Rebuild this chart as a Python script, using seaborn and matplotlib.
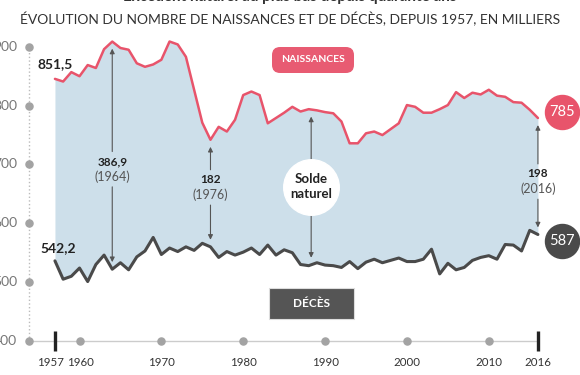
import numpy as np
import pandas as pd
import seaborn as sns
import matplotlib.pyplot as plt
from matplotlib.patches import FancyBboxPatch, Rectangle
from matplotlib.transforms import offset_copy

# births and deaths in France, thousands
years = list(range(1957, 2017))
naissances = [851.5, 847, 863, 856, 875, 870, 902, 914.9, 904, 901,
              878, 872, 876, 884, 915, 910, 889, 833, 777, 748,
              770, 762, 782, 824, 830, 824, 776, 785, 794, 804,
              796, 800, 798, 795, 793, 779, 742, 742, 759, 762,
              756, 766, 776, 807, 804, 794, 794, 800, 807, 829,
              819, 828, 825, 833, 823, 821, 812, 811, 799, 785]
deces = [542.2, 511, 516, 530, 507, 536, 552, 528, 539, 527,
         549, 559, 582, 553, 564, 558, 566, 560, 572, 566,
         548, 558, 552, 557, 564, 553, 569, 552, 561, 556,
         536, 534, 539, 535, 534, 531, 541, 529, 540, 545,
         539, 543, 547, 541, 541, 545, 562, 520, 538, 527,
         531, 543, 548, 551, 545, 570, 569, 559, 594, 587]

y_ticks = [400, 500, 600, 700, 800, 900]
dot_years = [1960, 1970, 1980, 1990, 2000, 2010]
end_years = [1957, 2016]

# solde naturel callouts: year, value, year label
solde_years = [1964, 1976, 2016]
solde_values = ['386,9', '182', '198']
solde_label_y = [711, 680, 690]

title = 'ÉVOLUTION DU NOMBRE DE NAISSANCES ET DE DÉCÈS, DEPUIS 1957, EN MILLIERS'
headline = 'Excédent naturel au plus bas depuis quarante ans'

pink = '#e8546b'
dark = '#4a4a4a'
fill = '#cddfea'
grid_shift = 6  # the original's grid sits a little off its data

sns.set_theme(style='white')
plt.rcParams['font.family'] = ['Lato', 'DejaVu Sans']

fig = plt.figure(figsize=(5.8, 3.75), dpi=100)
ax = fig.add_axes([0.05, 0.0907, 0.8845, 0.808])
ax.set_xlim(1953.83, 2016.5)
ax.set_ylim(400 + grid_shift, 921)

df = pd.DataFrame({'annee': years, 'naissances': naissances, 'deces': deces})
ax.fill_between(df['annee'], df['deces'], df['naissances'], color=fill, lw=0, zorder=0)
sns.lineplot(data=df, x='annee', y='naissances', ax=ax, color=pink, linewidth=1.8, zorder=3)
sns.lineplot(data=df, x='annee', y='deces', ax=ax, color=dark, linewidth=2.2, zorder=3)
ax.axis('off')

# y axis: dotted line with grey dots
ytr = ax.get_yaxis_transform()
yt = [t + grid_shift for t in y_ticks]
ax.plot([0, 0], [yt[0], yt[-1]], transform=ytr, ls=':', lw=1, color='#bbbbbb', clip_on=False)
ax.scatter([0] * len(yt), yt, transform=ytr, s=26, color='#a3a3a3', zorder=4, clip_on=False)
for t, v in zip(y_ticks, yt):
    ax.annotate(str(t), (0, v), xycoords=ytr, xytext=(-12, 0), textcoords='offset pixels',
                ha='right', va='center', fontsize=10, color='#777777')

# x axis
base = yt[0]
ax.plot([1953.83, 2016], [base, base], color='#cccccc', lw=1, clip_on=False, zorder=1)
ax.scatter(dot_years, [base] * len(dot_years), s=26, color='#a3a3a3', zorder=4, clip_on=False)
ax.plot(end_years, [base] * 2, ls='none', marker='|', ms=14, mew=2.4, color='#222222', clip_on=False)
for yr in end_years + dot_years:
    dx = {1957: -4, 1960: 1}.get(yr, 0)
    ax.annotate(str(yr), (yr, base), xytext=(dx, -22), textcoords='offset pixels',
                ha='center', va='center', fontsize=8.3, color='#333333')

# solde naturel arrows
gap = 12
for yr, val, ly in zip(solde_years, solde_values, solde_label_y):
    i = years.index(yr)
    top, bot = naissances[i] - gap, deces[i] + gap
    arr = dict(arrowstyle='-|>', color='#555555', lw=0.8, mutation_scale=7, shrinkA=0, shrinkB=0)
    ax.annotate('', xy=(yr, top), xytext=(yr, ly + 17), arrowprops=arr)
    ax.annotate('', xy=(yr, bot), xytext=(yr, ly - 43), arrowprops=arr)
    ax.text(yr, ly, val, ha='center', va='center', fontsize=8.5, fontweight='bold', color='#222222')
    ax.text(yr, ly - 26, f'({yr})', ha='center', va='center', fontsize=9, color='#555555')

# middle arrow with the "Solde naturel" bubble
mid_x = 1988.3
top = np.interp(mid_x, years, naissances) - gap
bot = np.interp(mid_x, years, deces) + gap
ax.annotate('', xy=(mid_x, top), xytext=(mid_x, bot),
            arrowprops=dict(arrowstyle='<|-|>', color='#555555', lw=0.8, mutation_scale=7,
                            shrinkA=0, shrinkB=0))
ax.scatter([mid_x], [668], s=1600, color='white', zorder=5)
ax.text(mid_x, 668, 'Solde\nnaturel', ha='center', va='center', fontsize=9.5,
        fontweight='bold', color='#222222', zorder=6, linespacing=1.3)

# start values
ax.annotate('851,5', (1957, naissances[0]), xytext=(0, 15), textcoords='offset pixels',
            ha='center', va='center', fontsize=10, fontweight='bold', color='#222222')
ax.annotate('542,2', (1957, deces[0]), xytext=(3, 13), textcoords='offset pixels',
            ha='center', va='center', fontsize=10, fontweight='bold', color='#222222')

# end bubbles
for vals, dy, col in [(naissances, 6.5, pink), (deces, -7, dark)]:
    tr = offset_copy(ax.transData, fig=fig, x=24.5, y=dy, units='dots')
    ax.plot([2016], [vals[-1]], transform=tr, marker='o', ms=24.5, color=col, clip_on=False, zorder=6)
    ax.text(2016, vals[-1], f'{vals[-1]:.0f}', transform=tr, ha='center', va='center',
            fontsize=10.5, color='white', zorder=7)

# series labels
fig.patches.append(FancyBboxPatch((272 / 580, 1 - 73 / 375), 82 / 580, 26 / 375,
                                  boxstyle='round,pad=0,rounding_size=0.014',
                                  mutation_aspect=580 / 375, transform=fig.transFigure,
                                  fc='#e85b72', ec='none', figure=fig))
fig.text(313 / 580, 1 - 60 / 375, 'NAISSANCES', ha='center', va='center', fontsize=7.5,
         fontweight='bold', color='white')
fig.patches.append(Rectangle((269 / 580, 1 - 319 / 375), 85 / 580, 31 / 375,
                             transform=fig.transFigure, fc='#555555', ec='#dddddd', lw=0.8,
                             figure=fig))
fig.text(311.5 / 580, 1 - 303.5 / 375, 'DÉCÈS', ha='center', va='center', fontsize=8.5,
         fontweight='bold', color='white')

fig.text(0.5, 1 + 3 / 375, headline, ha='center', va='center', fontsize=11,
         fontweight='bold', color='#333333')
fig.text(0.5, 1 - 19 / 375, title, ha='center', va='center', fontsize=10, color='#333333')

fig.savefig('out.png', dpi=100)
